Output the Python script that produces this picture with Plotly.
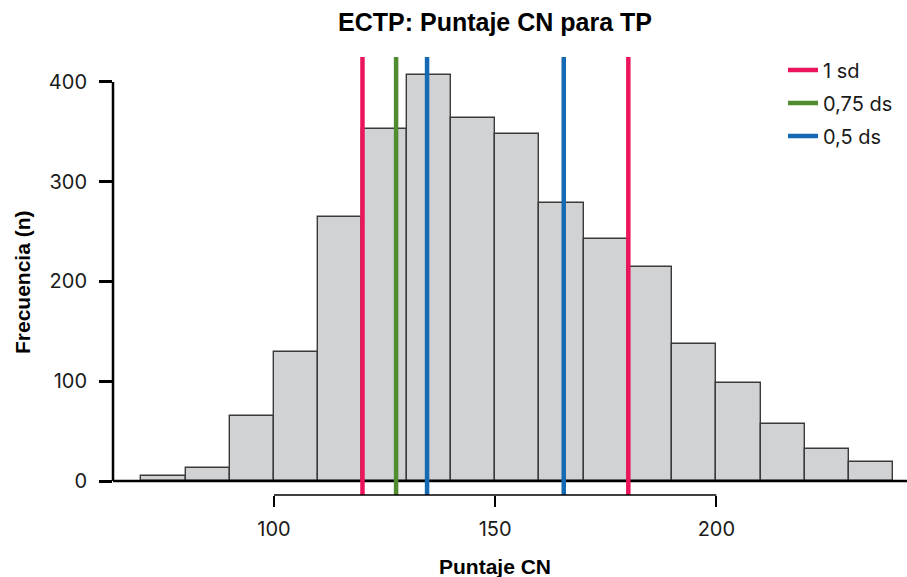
import plotly.graph_objects as go

# Histogram data (bin width 10)
bin_left = [70, 80, 90, 100, 110, 120, 130, 140, 150, 160, 170, 180, 190, 200, 210, 220, 230]
counts = [5, 13, 65, 129, 265, 353, 407, 364, 348, 279, 243, 215, 137, 98, 57, 32, 19]
bin_width = 10

# Reference lines
sd1_lines = [120, 180.1]
sd075_lines = [127.6]
sd05_lines = [134.6, 165.5]
line_names = ["1 sd", "0,75 ds", "0,5 ds"]
line_colors = ["#EC145A", "#4F8D2F", "#1669B3"]

y_ticks = [0, 100, 200, 300, 400]
x_ticks = [100, 150, 200]

x_range = [63.6, 243.1]
y_range = [-14, 425]

TICKFONT = "Inter, Roboto, sans-serif"
BOLDFONT = "Liberation Sans, Arial, sans-serif"

fig = go.Figure()

centers = [b + bin_width / 2 for b in bin_left]
fig.add_trace(go.Bar(
    x=centers, y=counts, width=bin_width,
    marker=dict(color="#D1D2D4", line=dict(color="#3a3a3a", width=1.4)),
    showlegend=False, hoverinfo="skip",
))

# zero line
fig.add_trace(go.Scatter(
    x=x_range, y=[0, 0], mode="lines",
    line=dict(color="black", width=2.5), showlegend=False, hoverinfo="skip",
    cliponaxis=False,
))

def vlines(vals):
    xs, ys = [], []
    for v in vals:
        xs += [v, v, None]
        ys += [y_range[0], y_range[1], None]
    return xs, ys

for vals, name, col in zip([sd1_lines, sd075_lines, sd05_lines], line_names, line_colors):
    xs, ys = vlines(vals)
    fig.add_trace(go.Scatter(
        x=xs, y=ys, mode="lines", name=name, legendgroup=name,
        line=dict(color=col, width=4.5), hoverinfo="skip",
    ))

# axis lines (range frame)
fig.add_shape(type="line", xref="paper", yref="y", x0=0, x1=0, y0=y_ticks[0], y1=y_ticks[-1],
              line=dict(color="black", width=2.5))
fig.add_shape(type="line", xref="x", yref="paper", x0=x_ticks[0], x1=x_ticks[-1], y0=0, y1=0,
              line=dict(color="black", width=1.5))

fig.update_layout(
    width=907, height=577,
    margin=dict(l=113, r=0, t=57, b=82),
    plot_bgcolor="white", paper_bgcolor="white",
    font=dict(family=TICKFONT, size=20, color="#1a1a1a"),
    bargap=0,
    title=dict(text="<b>ECTP: Puntaje CN para TP</b>", x=495 / 907, xanchor="center",
               y=1 - 22 / 577, yanchor="middle",
               font=dict(family=BOLDFONT, size=25, color="black")),
    xaxis=dict(range=x_range, tickvals=x_ticks, ticks="outside", ticklen=11, tickwidth=1.5,
               tickcolor="black", showgrid=False, zeroline=False, showline=False,
               tickfont=dict(size=20), ticklabelstandoff=5),
    yaxis=dict(range=y_range, tickvals=y_ticks, ticks="outside", ticklen=13, tickwidth=2.5,
               tickcolor="black", showgrid=False, zeroline=False, showline=False,
               tickfont=dict(size=20), ticklabelstandoff=8),
    legend=dict(x=(783 - 113) / 794, y=1.015, xanchor="left", yanchor="top",
                font=dict(size=20), bgcolor="rgba(0,0,0,0)", tracegroupgap=4,
                traceorder="grouped", itemwidth=30),
    annotations=[
        dict(text="<b>Frecuencia (n)</b>", xref="paper", yref="paper",
             x=-91 / 794, y=(495 - 282) / 438, textangle=-90, showarrow=False,
             font=dict(family=BOLDFONT, size=21, color="black"),
             xanchor="center", yanchor="middle"),
        dict(text="<b>Puntaje CN</b>", xref="paper", yref="paper",
             x=(495 - 113) / 794, y=-(566 - 495) / 438, showarrow=False,
             font=dict(family=BOLDFONT, size=21, color="black"),
             xanchor="center", yanchor="middle"),
    ],
)

fig.write_html("out.html", config={"displayModeBar": False},
               post_script="document.body.style.margin='0px';")
